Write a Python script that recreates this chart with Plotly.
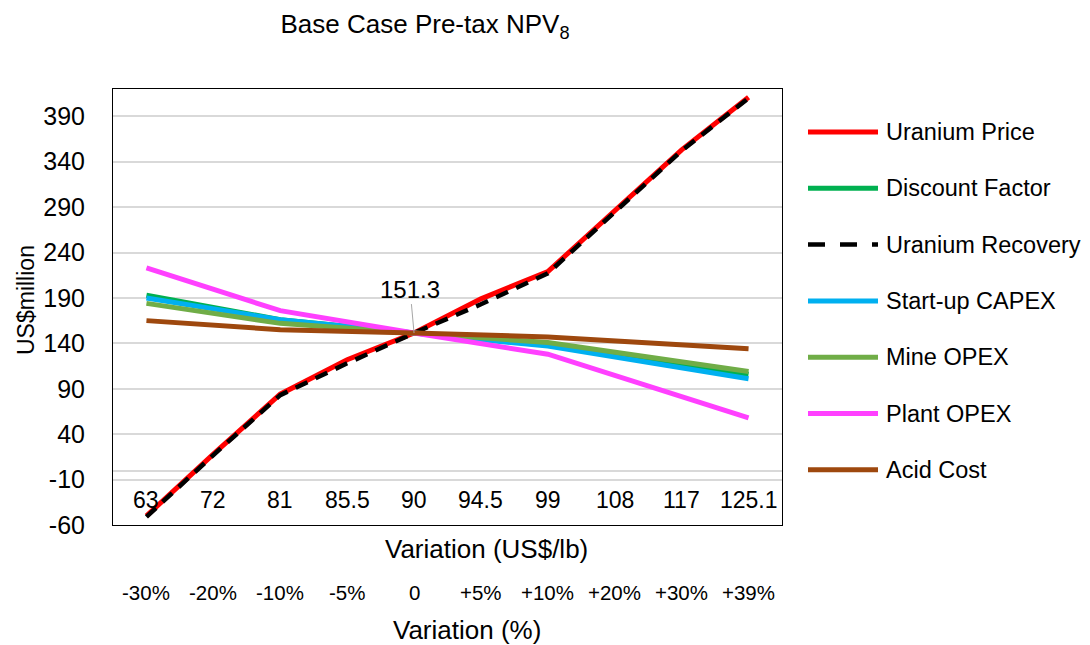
import plotly.graph_objects as go

categories = ["63", "72", "81", "85.5", "90", "94.5", "99", "108", "117", "125.1"]
pct_labels = ["-30%", "-20%", "-10%", "-5%", "0", "+5%", "+10%", "+20%", "+30%", "+39%"]
y_ticks = [-60, -10, 40, 90, 140, 190, 240, 290, 340, 390]

uranium_price = [-50, 18, 84, 122, 151.3, 189, 219, 286, 353, 411]
discount_factor = [193, None, 166, None, 151.3, None, 139, None, None, 106]
uranium_recovery = [-51, 17, 83, 118, 151.3, 183, 217, 285, 352, 410]
startup_capex = [190, None, 166, None, 151.3, None, 137, None, None, 101]
mine_opex = [184, None, 162, None, 151.3, None, 141, None, None, 109]
plant_opex = [223, None, 176, None, 151.3, None, 128, None, None, 58]
acid_cost = [165, None, 155, None, 151.3, None, 147, None, None, 134]

base_npv = 151.3
base_cat = "90"

series_names = ["Uranium Price", "Discount Factor", "Uranium Recovery", "Start-up CAPEX",
                "Mine OPEX", "Plant OPEX", "Acid Cost"]
series_values = [uranium_price, discount_factor, uranium_recovery, startup_capex,
                 mine_opex, plant_opex, acid_cost]
series_colors = ["#FF0000", "#00B050", "#000000", "#00B0F0", "#70AD47", "#FF40FF", "#9E480E"]
series_dash = ["solid", "solid", "13px,9px", "solid", "solid", "solid", "solid"]

FONT = "Arial, Liberation Sans, sans-serif"
W, H = 1090, 645
L, R, T, B = 113, 782, 89, 525

def px_x(p):
    return (p - L) / (R - L)

def px_y(p):
    return (B - p) / (B - T)

cat_idx = list(range(len(categories)))

fig = go.Figure()
for name, vals, col, dash in zip(series_names, series_values, series_colors, series_dash):
    fig.add_trace(go.Scatter(
        x=cat_idx, y=vals, mode="lines", name=name, connectgaps=True,
        line=dict(color=col, width=5 if dash == "solid" else 4.5, dash=dash),
        showlegend=False, customdata=categories,
        hovertemplate="%{customdata}: %{y}<extra>" + name + "</extra>",
    ))

annotations = []
# category labels inside plot
for i, c in enumerate(categories):
    annotations.append(dict(x=i, xref="x", y=px_y(500), yref="paper", text=c,
                            showarrow=False, font=dict(family=FONT, size=23, color="#000"),
                            xanchor="center", yanchor="middle"))
# percent labels
for i, p in enumerate(pct_labels):
    annotations.append(dict(x=i, xref="x", y=px_y(592), yref="paper", text=p,
                            showarrow=False, font=dict(family=FONT, size=20.5, color="#000"),
                            xanchor="center", yanchor="middle"))
# axis titles
annotations.append(dict(x=px_x(486), xref="paper", y=px_y(549), yref="paper",
                        text="Variation (US$/lb)", showarrow=False,
                        font=dict(family=FONT, size=26, color="#000"),
                        xanchor="center", yanchor="middle"))
annotations.append(dict(x=px_x(467), xref="paper", y=px_y(630), yref="paper",
                        text="Variation (%)", showarrow=False,
                        font=dict(family=FONT, size=26, color="#000"),
                        xanchor="center", yanchor="middle"))
annotations.append(dict(x=px_x(26), xref="paper", y=px_y(300), yref="paper",
                        text="US$million", showarrow=False, textangle=-90,
                        font=dict(family=FONT, size=23, color="#000"),
                        xanchor="center", yanchor="middle"))
# base label
annotations.append(dict(x=categories.index(base_cat), xref="x", y=base_npv, yref="y",
                        text=f"{base_npv}",
                        showarrow=True, arrowhead=0, arrowwidth=1, arrowcolor="#a6a6a6",
                        ax=-4, ay=-44, standoff=0,
                        font=dict(family=FONT, size=24, color="#000")))

# manual legend
shapes = []
leg_y0, leg_step = 132, 56.3
for i, (name, col, dash) in enumerate(zip(series_names, series_colors, series_dash)):
    yy = px_y(leg_y0 + leg_step * i)
    shapes.append(dict(type="line", xref="paper", yref="paper",
                       x0=px_x(808), x1=px_x(878), y0=yy, y1=yy,
                       line=dict(color=col, width=5 if dash == "solid" else 4.5,
                                 dash="17px,15px" if dash != "solid" else "solid")))
    annotations.append(dict(x=px_x(884), xref="paper", y=yy, yref="paper", text=name,
                            showarrow=False, font=dict(family=FONT, size=23.5, color="#000"),
                            xanchor="left", yanchor="middle"))

fig.update_layout(
    width=W, height=H,
    margin=dict(l=L, r=W - R, t=T, b=H - B),
    paper_bgcolor="white", plot_bgcolor="white",
    title=dict(text="Base Case Pre-tax NPV<sub>8</sub>", x=425 / W, y=1 - 24 / H,
               xanchor="center", yanchor="middle",
               font=dict(family=FONT, size=26, color="#000")),
    xaxis=dict(range=[-0.5, len(categories) - 0.5],
               showticklabels=False, showgrid=False, zeroline=False,
               showline=True, linecolor="#000", linewidth=1, mirror=True, ticks=""),
    yaxis=dict(range=[-60, 420], tickmode="array", tickvals=y_ticks,
               ticktext=[str(v) for v in y_ticks], showgrid=True,
               gridcolor="#d9d9d9", gridwidth=1.5,
               zeroline=True, zerolinecolor="#d9d9d9", zerolinewidth=1.5,
               showline=True, linecolor="#000", linewidth=1, mirror=True,
               ticks="", ticklabelstandoff=22,
               tickfont=dict(family=FONT, size=25, color="#000")),
    annotations=annotations,
    shapes=shapes,
    showlegend=False,
)

fig.write_html("out.html")
